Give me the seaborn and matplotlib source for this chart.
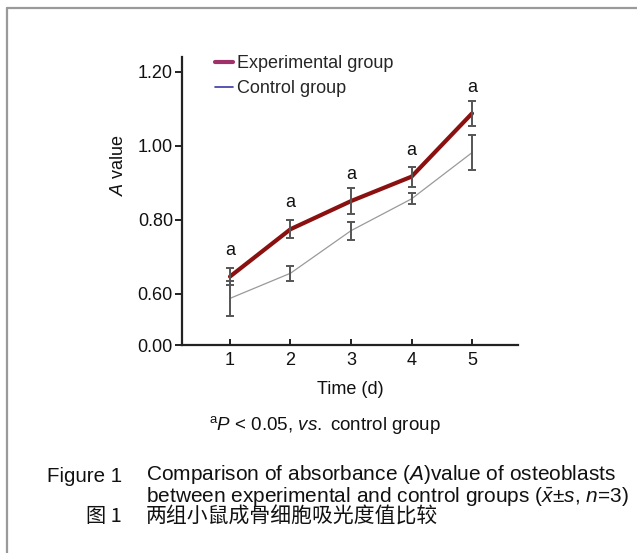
import numpy as np
import pandas as pd
import matplotlib
matplotlib.use("Agg")
import matplotlib.pyplot as plt
from matplotlib.lines import Line2D
import seaborn as sns

# ---- data ----
days = [1, 2, 3, 4, 5]
exp_mean = [0.647, 0.775, 0.851, 0.917, 1.088]
exp_sd = [0.022, 0.024, 0.035, 0.027, 0.033]
ctrl_mean = [0.588, 0.656, 0.771, 0.857, 0.982]
ctrl_sd = [0.048, 0.020, 0.024, 0.015, 0.048]
group_labels = ["Experimental group", "Control group"]
sig_marks = ["a", "a", "a", "a", "a"]
ytick_values = [0.60, 0.80, 1.00, 1.20]
ytick_labels = ["0.60", "0.80", "1.00", "1.20"]
axis_floor = 0.462          # broken axis bottom, labelled 0.00
axis_floor_label = "0.00"

df = pd.DataFrame({
    "day": days * 2,
    "value": exp_mean + ctrl_mean,
    "sd": exp_sd + ctrl_sd,
    "group": [group_labels[0]] * len(days) + [group_labels[1]] * len(days),
})

sns.set_theme(style="ticks")
plt.rcParams["font.family"] = ["Liberation Sans", "Noto Sans CJK SC", "DejaVu Sans"]
plt.rcParams["mathtext.fontset"] = "custom"
plt.rcParams["mathtext.rm"] = "Liberation Sans"
plt.rcParams["mathtext.it"] = "Liberation Sans:italic"

W, H = 637, 553
fig = plt.figure(figsize=(W / 100, H / 100), dpi=100)
fig.patch.set_facecolor("white")

ax_l, ax_r, ax_t, ax_b = 182, 518, 57, 345
ax = fig.add_axes([ax_l / W, 1 - ax_b / H, (ax_r - ax_l) / W, (ax_b - ax_t) / H])

exp_color = "#8b1111"
ctrl_color = "#9a9a9a"
err_color = "#555555"

sns.lineplot(data=df[df.group == group_labels[1]], x="day", y="value",
             color=ctrl_color, linewidth=0.9, ax=ax, legend=False, zorder=2)
sns.lineplot(data=df[df.group == group_labels[0]], x="day", y="value",
             color=exp_color, linewidth=3.0, ax=ax, legend=False, zorder=3)

for g in group_labels:
    sub = df[df.group == g]
    ax.errorbar(sub["day"], sub["value"], yerr=sub["sd"], fmt="none",
                ecolor=err_color, elinewidth=1.4, capsize=3, capthick=1.4, zorder=4)

sub = df[df.group == group_labels[0]]
for d, v, s, m in zip(sub["day"], sub["value"], sub["sd"], sig_marks):
    ax.annotate(m, (d, v), xytext=(0, 19), textcoords="offset points",
                ha="center", va="center", fontsize=13, color="#111111")

ax.set_xlim(0.207, 5.76)
ax.set_ylim(axis_floor, 1.2405)
ax.set_xticks(days)
ax.set_xticklabels([str(d) for d in days])
ax.set_yticks([axis_floor] + ytick_values)
ax.set_yticklabels([axis_floor_label] + ytick_labels)

for sp in ["top", "right"]:
    ax.spines[sp].set_visible(False)
for sp in ["left", "bottom"]:
    ax.spines[sp].set_linewidth(1.6)
    ax.spines[sp].set_color("#222222")

ax.tick_params(axis="y", direction="out", length=5, width=1.4, pad=1.5,
               labelsize=13, colors="#222222", labelcolor="#111111")
ax.tick_params(axis="x", direction="in", length=4, width=1.4, pad=5,
               labelsize=13, colors="#222222", labelcolor="#111111")

ax.set_xlabel("Time (d)", fontsize=13, color="#111111")
ax.xaxis.set_label_coords((350 - ax_l) / (ax_r - ax_l), (ax_b - 381) / (ax_b - ax_t))
ax.set_ylabel(r"$\it{A}$ value", fontsize=13, color="#111111")
ax.yaxis.set_label_coords((127 - ax_l) / (ax_r - ax_l), (ax_b - 165) / (ax_b - ax_t))

handles = [Line2D([0], [0], color="#a0306a", linewidth=3.0),
           Line2D([0], [0], color="#3a3aa8", linewidth=1.2)]
ax.legend(handles, group_labels, loc="upper left",
          bbox_to_anchor=(215 / W, 1 - 55 / H), bbox_transform=fig.transFigure,
          frameon=False, fontsize=13, handlelength=1.0, handletextpad=0.2,
          borderpad=0, borderaxespad=0, labelspacing=0.45)

# footnote and caption
fig.text(325 / W, 1 - 425 / H, r"$^{\rm a}$$\it{P}$ < 0.05, $\it{vs.}$ control group",
         ha="center", va="center", fontsize=13.5, color="#111111")
fig.text(122 / W, 1 - 482 / H, "Figure 1", ha="right", va="baseline",
         fontsize=14.8, color="#111111")
fig.text(146 / W, 1 - 502 / H,
         "Comparison of absorbance ($\\it{A}$)value of osteoblasts\n"
         "between experimental and control groups ($\\bar{x}$±$\\it{s}$, $\\it{n}$=3)",
         ha="left", va="baseline", multialignment="left", linespacing=0.945,
         fontsize=15, color="#111111")
fig.text(122 / W, 1 - 517 / H, "图 1", ha="right", va="center", fontsize=14.5, color="#111111",
         family=["Noto Sans CJK SC", "Liberation Sans"])
fig.text(146 / W, 1 - 517 / H, "两组小鼠成骨细胞吸光度值比较", ha="left", va="center",
         fontsize=15, color="#111111", family=["Noto Sans CJK SC", "Liberation Sans"])

# frame lines (top and left only)
fig.add_artist(Line2D([7 / W, 7 / W], [0, 1 - 8 / H], transform=fig.transFigure,
                      color="#9a9a9a", linewidth=1.6))
fig.add_artist(Line2D([7 / W, 1], [1 - 8 / H, 1 - 8 / H], transform=fig.transFigure,
                      color="#9a9a9a", linewidth=1.6))

fig.savefig("out.png", dpi=100)
